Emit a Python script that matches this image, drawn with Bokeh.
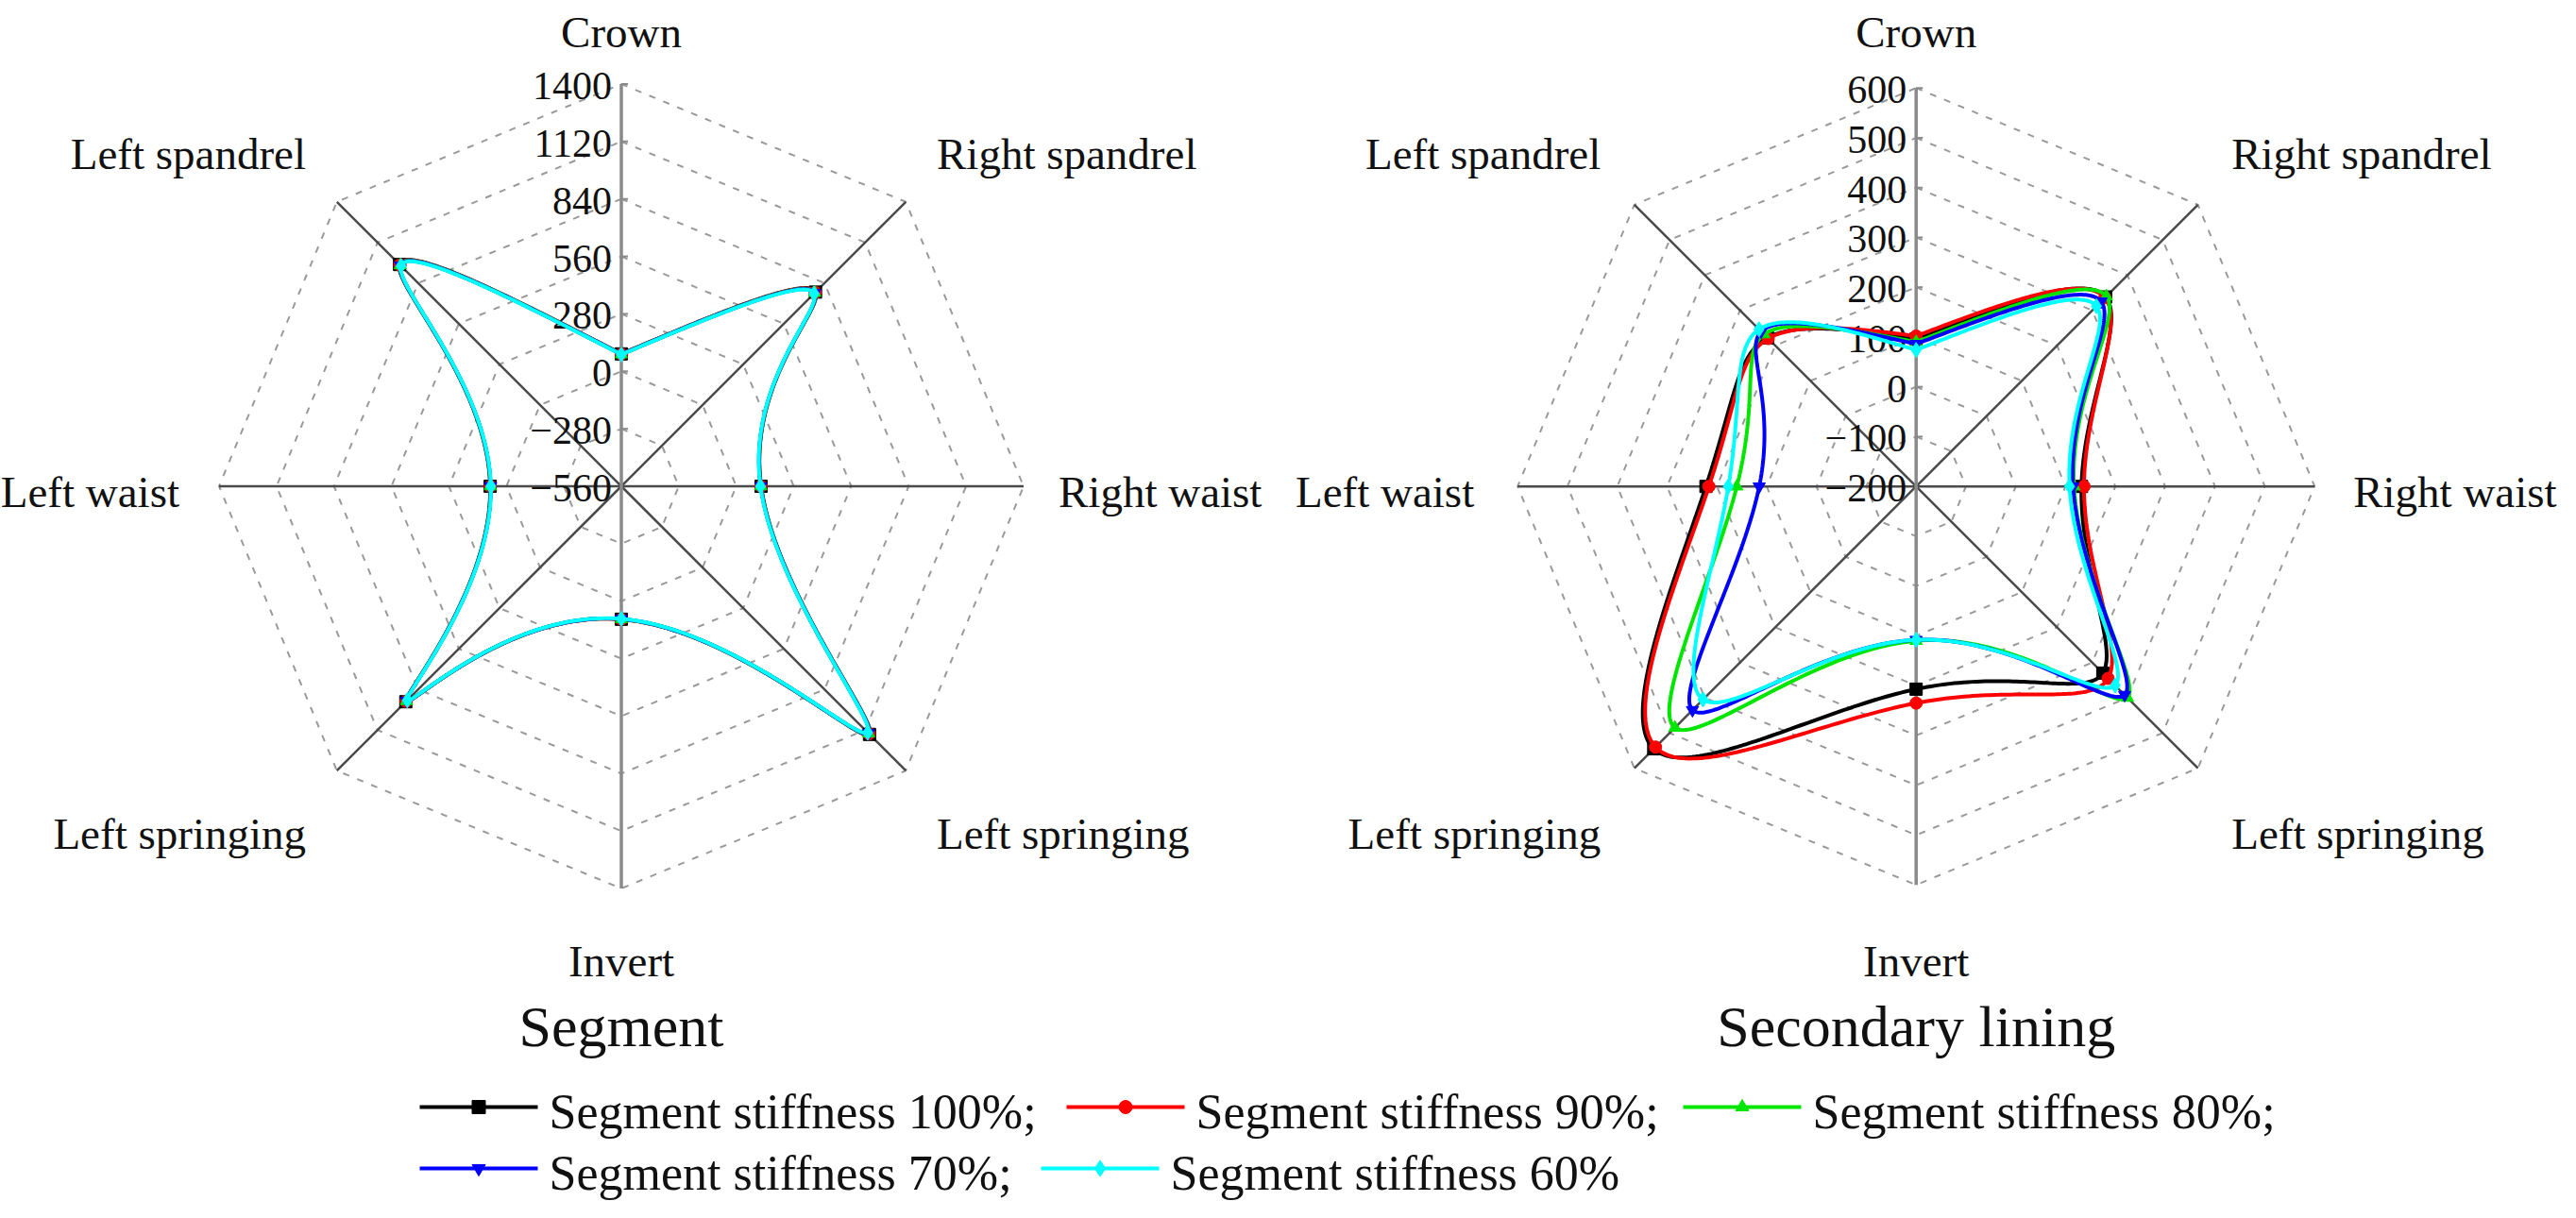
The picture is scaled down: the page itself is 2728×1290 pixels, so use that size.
import numpy as np
from bokeh.plotting import figure
from bokeh.models import Range1d
from bokeh.core.properties import value
from bokeh.embed import file_html
from bokeh.resources import INLINE

# ---------------- data ----------------
axis_labels = ["Crown", "Right spandrel", "Right waist", "Left springing",
               "Invert", "Left springing", "Left waist", "Left spandrel"]
axis_angles_deg = [90, 45, 0, -45, -90, -135, 180, 135]

series_names = ["Segment stiffness 100%;", "Segment stiffness 90%;",
                "Segment stiffness 80%;", "Segment stiffness 70%;",
                "Segment stiffness 60%"]
colors = ["#000000", "#ff0000", "#00e600", "#0000ff", "#00ffff"]
markers = ["square", "circle", "triangle", "inverted_triangle", "diamond"]

seg_ticks = [-560, -280, 0, 280, 560, 840, 1120, 1400]
lin_ticks = [-200, -100, 0, 100, 200, 300, 400, 500, 600]

# order: Crown, Right spandrel, Right waist, Left springing(right), Invert,
#        Left springing, Left waist, Left spandrel
segment_100 = [85, 778, 121, 1150, 88, 925, 79, 968]
segment_90 = [84, 775, 120, 1146, 88, 922, 78, 965]
segment_80 = [83, 773, 120, 1144, 87, 920, 78, 963]
segment_70 = [83, 771, 119, 1142, 87, 918, 77, 961]
segment_60 = [82, 768, 118, 1138, 86, 915, 76, 958]

lining_100 = [96, 338, 132, 330, 207, 545, 222, 222]
lining_90 = [102, 336, 137, 345, 235, 540, 216, 220]
lining_80 = [90, 340, 117, 400, 110, 485, 160, 232]
lining_70 = [86, 325, 115, 392, 108, 435, 115, 240]
lining_60 = [74, 312, 108, 365, 108, 405, 177, 246]

segment_series = [segment_100, segment_90, segment_80, segment_70, segment_60]
lining_series = [lining_100, lining_90, lining_80, lining_70, lining_60]

# ---------------- layout ----------------
W, H = 2712, 1274
FONT = value("Liberation Serif")
TXT = "#111111"
DY = -10       # baseline correction for rendered text
DY_TOP = -2    # keep the top label inside the canvas

p = figure(width=W, height=H, x_range=Range1d(8, 8 + W), y_range=Range1d(8 + H, 8),
           x_axis_type=None, y_axis_type=None, toolbar_location=None,
           min_border=0, output_backend="svg")
p.outline_line_color = None
p.background_fill_color = "white"
p.border_fill_color = "white"


def fmt(v):
    return ("\u2212" + str(-v)) if v < 0 else str(v)


def natural_spline(vals, n=60):
    vals = np.asarray(vals, dtype=float)
    P = len(vals)
    m = P - 2
    A = np.zeros((m, m))
    b = np.zeros(m)
    for i in range(m):
        A[i, i] = 4.0
        if i > 0:
            A[i, i - 1] = 1.0
        if i < m - 1:
            A[i, i + 1] = 1.0
        b[i] = 6.0 * (vals[i + 2] - 2 * vals[i + 1] + vals[i])
    M = np.zeros(P)
    M[1:-1] = np.linalg.solve(A, b)
    out = []
    for i in range(P - 1):
        u = np.linspace(0, 1, n, endpoint=False)
        s = ((1 - u) * vals[i] + u * vals[i + 1]
             + ((1 - u) ** 3 - (1 - u)) * M[i] / 6.0
             + (u ** 3 - u) * M[i + 1] / 6.0)
        out.append(s)
    out.append(np.array([vals[-1]]))
    return np.concatenate(out)


def radar(cx, cy, R, ticks, series, title):
    vmin, vmax = ticks[0], ticks[-1]
    th = np.radians(axis_angles_deg)

    def to_xy(v, k):
        r = (np.asarray(v, dtype=float) - vmin) / (vmax - vmin) * R
        return cx + r * np.cos(th[k]), cy - r * np.sin(th[k])

    # dashed rings
    for t in ticks[1:]:
        xs, ys = [], []
        for k in list(range(8)) + [0]:
            x, y = to_xy(t, k)
            xs.append(float(x)); ys.append(float(y))
        p.line(xs, ys, line_color="#9a9a9a", line_width=2, line_dash="7 9")

    # spokes
    for k in range(8):
        if axis_angles_deg[k] in (90, -90):
            continue
        x, y = to_xy(vmax, k)
        p.line([cx, float(x)], [cy, float(y)], line_color="#4a4a4a", line_width=2.5)
    xt, yt = to_xy(vmax, 0)
    xb, yb = to_xy(vmax, 4)
    p.line([float(xt), float(xb)], [float(yt), float(yb)], line_color="#8a8a8a", line_width=3.5)

    # tick marks and labels
    tx, ty = [], []
    for t in ticks:
        x, y = to_xy(t, 0)
        tx.append(float(x)); ty.append(float(y))
        if t != vmin:
            p.line([float(x), float(x) + 7], [float(y), float(y)], line_color="#8a8a8a", line_width=2)
    p.text(x=[v - 10 for v in tx], y=[v + 2 for v in ty], text=[fmt(t) for t in ticks],
           text_font=FONT, text_font_size="42px", text_align="right",
           text_baseline="middle", text_color=TXT)

    # axis labels
    p.text(x=[cx], y=[cy - 479 + DY_TOP], text=[axis_labels[0]],
           text_font=FONT, text_font_size="47px", text_align="center",
           text_baseline="alphabetic", text_color=TXT)
    p.text(x=[cx], y=[cy + 513 + DY], text=[axis_labels[4]],
           text_font=FONT, text_font_size="47px", text_align="center",
           text_baseline="alphabetic", text_color=TXT)
    p.text(x=[cx - 334, cx - 468, cx - 334], y=[cy - 342 + DY, cy + 16 + DY, cy + 378 + DY],
           text=[axis_labels[7], axis_labels[6], axis_labels[5]],
           text_font=FONT, text_font_size="47px", text_align="right",
           text_baseline="alphabetic", text_color=TXT)
    p.text(x=[cx + 334, cx + 463, cx + 334], y=[cy - 342 + DY, cy + 16 + DY, cy + 378 + DY],
           text=[axis_labels[1], axis_labels[2], axis_labels[3]],
           text_font=FONT, text_font_size="47px", text_align="left",
           text_baseline="alphabetic", text_color=TXT)
    p.text(x=[cx], y=[cy + 582 + DY], text=[title], text_font=FONT,
           text_font_size="62px", text_align="center", text_baseline="alphabetic",
           text_color=TXT)

    # series curves
    for vals, col, mk in zip(series, colors, markers):
        xs, ys = [], []
        for k in range(8):
            x, y = to_xy(vals[k], k)
            xs.append(float(x)); ys.append(float(y))
        xs_c = xs + [xs[0]]
        ys_c = ys + [ys[0]]
        sx = natural_spline(xs_c)
        sy = natural_spline(ys_c)
        p.line(sx, sy, line_color=col, line_width=4)
        p.scatter(xs, ys, marker=mk, size=13 if mk != "diamond" else 16,
                  fill_color=col, line_color=col)


radar(665.5, 522.5, 426, seg_ticks, segment_series, "Segment")
radar(2036.7, 522.7, 422, lin_ticks, lining_series, "Secondary lining")

# ---------------- legend ----------------
legend_rows = [(1180, [(452, 0), (1137, 1), (1790, 2)]),
               (1245, [(452, 3), (1110, 4)])]
for ly, items in legend_rows:
    for x0, i in items:
        p.line([x0, x0 + 125], [ly, ly], line_color=colors[i], line_width=4)
        p.scatter([x0 + 62.5], [ly], marker=markers[i],
                  size=14 if markers[i] != "diamond" else 17,
                  fill_color=colors[i], line_color=colors[i])
        p.text(x=[x0 + 137], y=[ly + 17 + DY - 2], text=[series_names[i]], text_font=FONT,
               text_font_size="52px", text_align="left", text_baseline="alphabetic",
               text_color=TXT)

open("out.html", "w").write(file_html(p, INLINE))
